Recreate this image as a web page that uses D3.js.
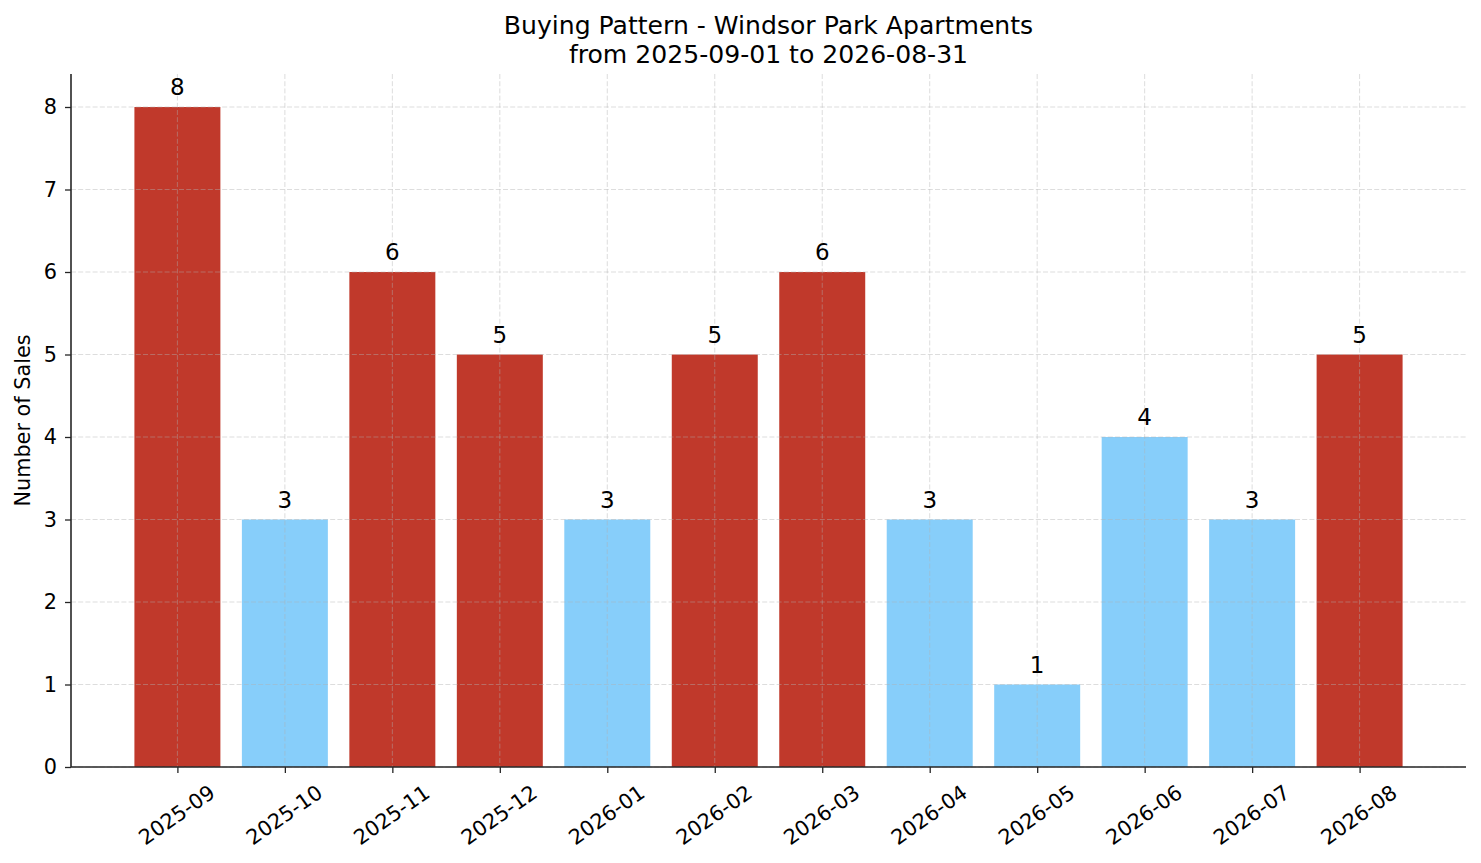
<!DOCTYPE html>
<html>
<head>
<meta charset="utf-8">
<script src="https://cdn.jsdelivr.net/npm/d3@7"></script>
<style>
  html, body { margin: 0; padding: 0; background: #fff; }
  svg { display: block; font-family: "DejaVu Sans", sans-serif; }
</style>
</head>
<body>
<svg id="chart" width="1481" height="863"></svg>
<script>
const months = ["2025-09","2025-10","2025-11","2025-12","2026-01","2026-02","2026-03","2026-04","2026-05","2026-06","2026-07","2026-08"];
const sales = [8, 3, 6, 5, 3, 5, 6, 3, 1, 4, 3, 5];
const yTicks = [0, 1, 2, 3, 4, 5, 6, 7, 8];
const titleLines = ["Buying Pattern - Windsor Park Apartments", "from 2025-09-01 to 2026-08-31"];
const yLabel = "Number of Sales";

const W = 1481, H = 863;
const m = { left: 71, right: 1466, top: 74, bottom: 767 };
const svg = d3.select("#chart");

const mean = d3.mean(sales);
const HIGH = "#c0392b", LOW = "#87cefa";

const x = d3.scaleLinear().domain([-0.99, months.length - 1 + 0.99]).range([m.left, m.right]);
const y = d3.scaleLinear().domain([0, 8.4]).range([m.bottom, m.top]);
const barW = x(0.8) - x(0);

// bars
svg.append("g").selectAll("rect").data(sales).join("rect")
  .attr("x", (d, i) => x(i - 0.4))
  .attr("y", d => y(d))
  .attr("width", barW)
  .attr("height", d => y(0) - y(d))
  .attr("fill", d => d > mean ? HIGH : LOW);

// grid (on top of bars)
const grid = svg.append("g").attr("stroke", "#b0b0b0").attr("stroke-opacity", 0.55)
  .attr("stroke-width", 0.8).attr("stroke-dasharray", "5,2.2");
grid.selectAll("line.h").data(yTicks).join("line").attr("class", "h")
  .attr("x1", m.left).attr("x2", m.right)
  .attr("y1", d => y(d)).attr("y2", d => y(d));
grid.selectAll("line.v").data(months).join("line").attr("class", "v")
  .attr("x1", (d, i) => x(i)).attr("x2", (d, i) => x(i))
  .attr("y1", m.top).attr("y2", m.bottom);

// value labels
svg.append("g").selectAll("text").data(sales).join("text")
  .attr("x", (d, i) => x(i))
  .attr("y", d => y(d) - 12)
  .attr("text-anchor", "middle")
  .attr("font-size", 23)
  .attr("fill", "#000")
  .text(d => d);

// axes
const axisColor = "#262626";
const yAxis = svg.append("g").attr("transform", `translate(${m.left},0)`)
  .call(d3.axisLeft(y).tickValues(yTicks).tickFormat(d3.format("d")).tickSize(6).tickPadding(8));
const xAxis = svg.append("g").attr("transform", `translate(0,${m.bottom})`)
  .call(d3.axisBottom(x).tickValues(d3.range(months.length)).tickFormat(i => months[i]).tickSize(6));

[yAxis, xAxis].forEach(g => {
  g.select(".domain").remove();
  g.selectAll(".tick line").attr("stroke", axisColor).attr("stroke-width", 1.3);
  g.selectAll(".tick text").attr("font-size", 20.8).attr("fill", "#000").attr("font-family", "DejaVu Sans");
});
xAxis.selectAll(".tick text")
  .attr("y", 0).attr("dy", null)
  .attr("text-anchor", "middle")
  .attr("dominant-baseline", "central")
  .attr("transform", "translate(-1,48) rotate(-35)");

// spines
svg.append("line").attr("x1", m.left).attr("x2", m.left).attr("y1", m.top).attr("y2", m.bottom)
  .attr("stroke", axisColor).attr("stroke-width", 1.6);
svg.append("line").attr("x1", m.left).attr("x2", m.right).attr("y1", m.bottom).attr("y2", m.bottom)
  .attr("stroke", axisColor).attr("stroke-width", 1.6);

// y label
svg.append("text")
  .attr("transform", `translate(30,${(m.top + m.bottom) / 2}) rotate(-90)`)
  .attr("text-anchor", "middle")
  .attr("font-size", 20.8)
  .text(yLabel);

// title
svg.append("g").selectAll("text").data(titleLines).join("text")
  .attr("x", (m.left + m.right) / 2)
  .attr("y", (d, i) => 34 + i * 29)
  .attr("text-anchor", "middle")
  .attr("font-size", 25.1)
  .text(d => d);
</script>
</body>
</html>
